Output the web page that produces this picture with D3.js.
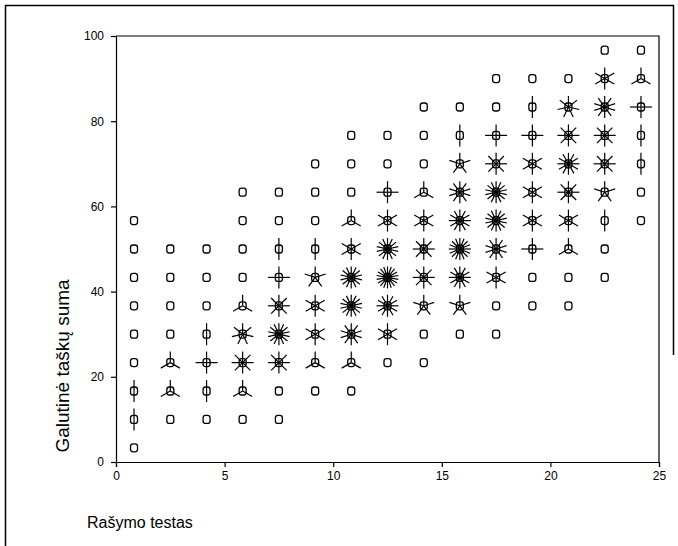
<!DOCTYPE html>
<html>
<head>
<meta charset="utf-8">
<script src="https://cdn.jsdelivr.net/npm/d3@7"></script>
<style>
  body { margin: 0; background: #fff; }
  svg text { font-family: "Liberation Sans", Arial, sans-serif; fill: #000; }
</style>
</head>
<body>
<div id="chart"></div>
<script>
// bin centres of the sunflower grid
var xCentres = [0.83, 2.5, 4.17, 5.83, 7.5, 9.17, 10.83, 12.5, 14.17, 15.83, 17.5, 19.17, 20.83, 22.5, 24.17];
var yCentres = [3.33, 10, 16.67, 23.33, 30, 36.67, 43.33, 50, 56.67, 63.33, 70, 76.67, 83.33, 90, 96.67];

// number of cases in each cell, one array per x bin, listed from the lowest y bin up
var counts = [
  [1, 2, 2, 1, 1, 1, 1, 1, 1, 0, 0, 0, 0, 0, 0],
  [0, 1, 3, 3, 1, 1, 1, 1, 0, 0, 0, 0, 0, 0, 0],
  [0, 1, 2, 4, 2, 1, 1, 1, 0, 0, 0, 0, 0, 0, 0],
  [0, 1, 3, 8, 7, 3, 1, 1, 1, 1, 0, 0, 0, 0, 0],
  [0, 1, 1, 8, 14, 8, 4, 2, 1, 1, 0, 0, 0, 0, 0],
  [0, 0, 1, 3, 6, 6, 5, 2, 1, 1, 1, 0, 0, 0, 0],
  [0, 0, 1, 3, 10, 14, 14, 6, 3, 1, 1, 1, 0, 0, 0],
  [0, 0, 0, 1, 6, 12, 18, 14, 6, 4, 1, 1, 0, 0, 0],
  [0, 0, 0, 1, 1, 5, 8, 8, 6, 3, 1, 1, 1, 0, 0],
  [0, 0, 0, 0, 1, 5, 12, 16, 12, 10, 5, 2, 1, 0, 0],
  [0, 0, 0, 0, 1, 1, 6, 10, 14, 14, 8, 4, 1, 1, 0],
  [0, 0, 0, 0, 0, 1, 1, 4, 6, 6, 6, 4, 2, 1, 0],
  [0, 0, 0, 0, 0, 1, 1, 3, 6, 8, 12, 8, 7, 1, 0],
  [0, 0, 0, 0, 0, 0, 1, 1, 2, 5, 8, 8, 10, 6, 1],
  [0, 0, 0, 0, 0, 0, 0, 0, 1, 1, 2, 2, 4, 3, 1]
];

var xTicks = [0, 5, 10, 15, 20, 25];
var yTicks = [0, 20, 40, 60, 80, 100];
var xTitle = "Rašymo testas";
var yTitle = "Galutinė taškų suma";

var svgWidth = 678;
var svgHeight = 546;
var margin = { top: 36, right: 19, bottom: 84, left: 116 };
var width = svgWidth - margin.left - margin.right;
var height = svgHeight - margin.top - margin.bottom;

var svg = d3.select("#chart").append("svg")
    .attr("width", svgWidth)
    .attr("height", svgHeight);

// page frame lines (left, top, right)
svg.append("path")
    .attr("d", "M5.5,546 V5.5 H673.5 V355")
    .attr("fill", "none")
    .attr("stroke", "#000")
    .attr("stroke-width", 1.5);

var chartGroup = svg.append("g")
    .attr("transform", `translate(${margin.left}, ${margin.top})`);

var xScale = d3.scaleLinear().domain([0, 25]).range([0, width]);
var yScale = d3.scaleLinear().domain([0, 100]).range([height, 0]);

// plot box top and right edges
chartGroup.append("path")
    .attr("d", `M0,0 H${width} V${height}`)
    .attr("fill", "none")
    .attr("stroke", "#000")
    .attr("stroke-width", 1.2);

var xAxis = chartGroup.append("g")
    .attr("transform", `translate(0, ${height})`)
    .call(d3.axisBottom(xScale).tickValues(xTicks).tickSize(5).tickPadding(4));

var yAxis = chartGroup.append("g")
    .call(d3.axisLeft(yScale).tickValues(yTicks).tickSize(5).tickPadding(7));

[xAxis, yAxis].forEach(function(ax) {
    ax.selectAll("path, line").attr("stroke", "#000").attr("stroke-width", 1.2);
    ax.selectAll("text").style("font-size", "12px").style("font-family", "Liberation Sans, Arial, sans-serif");
});

// flatten counts into cells
var cells = [];
counts.forEach(function(col, i) {
    col.forEach(function(n, j) {
        if (n > 0) cells.push({ x: xCentres[i], y: yCentres[j], n: n });
    });
});

var petalLen = 11;

var flowers = chartGroup.selectAll(".flower")
    .data(cells)
    .enter()
    .append("g")
    .attr("class", "flower")
    .attr("transform", d => `translate(${xScale(d.x)}, ${yScale(d.y)})`);

flowers.append("rect")
    .attr("x", -3.5)
    .attr("y", -4)
    .attr("width", 7)
    .attr("height", 8)
    .attr("rx", 2.5)
    .attr("fill", "none")
    .attr("stroke", "#000")
    .attr("stroke-width", 1.3);

flowers.each(function(d) {
    if (d.n < 2) return;
    var g = d3.select(this);
    d3.range(d.n).forEach(function(k) {
        var a = k * 2 * Math.PI / d.n;
        g.append("line")
            .attr("x1", 0).attr("y1", 0)
            .attr("x2", petalLen * Math.sin(a))
            .attr("y2", -petalLen * Math.cos(a))
            .attr("stroke", "#000")
            .attr("stroke-width", 1.2);
    });
});

// axis titles
svg.append("text")
    .attr("transform", "translate(69, 366) rotate(-90)")
    .attr("text-anchor", "middle")
    .style("font-size", "19px")
    .text(yTitle);

svg.append("text")
    .attr("x", 87)
    .attr("y", 528)
    .style("font-size", "16px")
    .text(xTitle);
</script>
</body>
</html>
